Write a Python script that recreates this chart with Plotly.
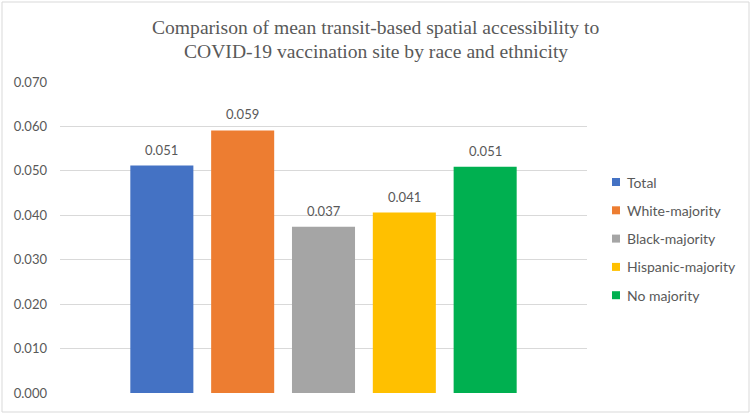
import plotly.graph_objects as go

series = ["Total", "White-majority", "Black-majority", "Hispanic-majority", "No majority"]
values = [0.0512, 0.0591, 0.0374, 0.0406, 0.0509]
labels = ["0.051", "0.059", "0.037", "0.041", "0.051"]
colors = ["#4472C4", "#ED7D31", "#A5A5A5", "#FFC000", "#00B050"]
y_ticks = [0.0, 0.01, 0.02, 0.03, 0.04, 0.05, 0.06, 0.07]
y_tick_text = ["0.000", "0.010", "0.020", "0.030", "0.040", "0.050", "0.060", "0.070"]
title_lines = ["Comparison of mean transit-based spatial accessibility to",
               "COVID-19 vaccination site by race and ethnicity"]

FONT = "Lato"
GRAY = "#595959"
W, H = 751, 414
L, R, T, B = 60, 164, 82, 21
PW, PH = W - L - R, H - T - B


def px_x(x):
    return (x - L) / PW


def px_y(y):
    return (H - B - y) / PH


fig = go.Figure()
for name, v, c in zip(series, values, colors):
    fig.add_trace(go.Bar(x=[name], y=[v], name=name, width=0.78,
                         marker=dict(color=c, line=dict(width=0)),
                         showlegend=False, hoverinfo="skip"))
for name, v, t in zip(series, values, labels):
    fig.add_annotation(x=name, y=v, text=t, showarrow=False, yanchor="bottom", yshift=6,
                       font=dict(family=FONT, size=13, color=GRAY))

for i, line in enumerate(title_lines):
    fig.add_annotation(xref="paper", yref="paper", x=px_x(W / 2), y=px_y(27 + 24 * i),
                       text=line, showarrow=False, xanchor="center", yanchor="middle",
                       font=dict(family="Liberation Serif", size=19.6, color=GRAY))

# legend (drawn manually so it does not push the plot margins)
for i, (name, c) in enumerate(zip(series, colors)):
    yc = 182 + 28.3 * i
    fig.add_shape(type="rect", xref="paper", yref="paper",
                  x0=px_x(612), x1=px_x(620), y0=px_y(yc + 4), y1=px_y(yc - 4),
                  line=dict(width=0), fillcolor=c)
    fig.add_annotation(xref="paper", yref="paper", x=px_x(625), y=px_y(yc), text=name,
                       showarrow=False, xanchor="left", yanchor="middle",
                       font=dict(family=FONT, size=14, color=GRAY))

fig.add_shape(type="rect", xref="paper", yref="paper", x0=px_x(2), x1=px_x(749), y0=px_y(412), y1=px_y(2),
              line=dict(color="#D9D9D9", width=1), layer="below")

fig.update_layout(
    width=W, height=H,
    margin=dict(l=L, r=R, t=T, b=B),
    paper_bgcolor="white", plot_bgcolor="white",
    barmode="overlay",
    showlegend=False,
    xaxis=dict(type="category", range=[-1.26, 5.26], showticklabels=False, showgrid=False,
               zeroline=False, showline=False, ticks=""),
    yaxis=dict(range=[0, 0.07], tickvals=y_ticks, ticktext=y_tick_text, showgrid=True,
               gridcolor="#D9D9D9", gridwidth=1, zeroline=False, showline=False, ticks="",
               ticklabelstandoff=12, tickfont=dict(family=FONT, size=13, color=GRAY)),
)

fig.write_html("out.html", config={"displayModeBar": False},
               post_script="document.body.style.margin='0';")
